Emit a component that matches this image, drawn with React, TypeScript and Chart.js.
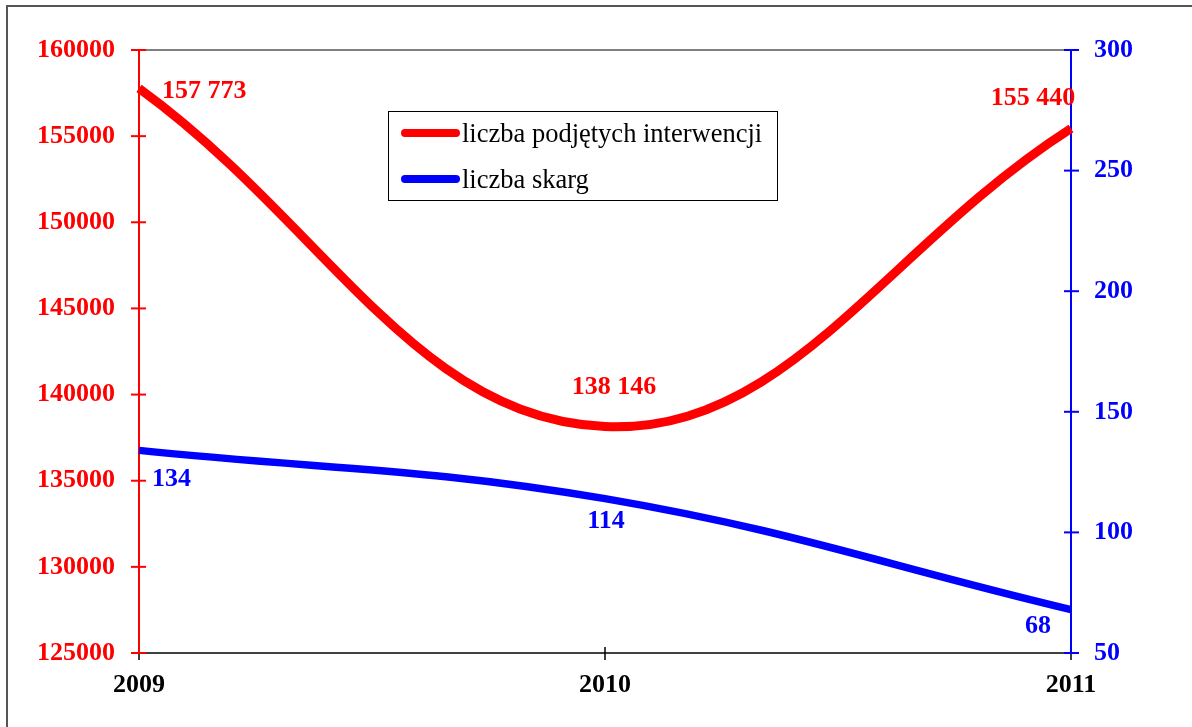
import React, { useEffect, useRef } from "react";
import { Chart, registerables } from "chart.js";

Chart.register(...registerables);

const years = ["2009", "2010", "2011"];
const interwencje = [157773, 138146, 155440];
const skargi = [134, 114, 68];
const interwencjeLabels = ["157 773", "138 146", "155 440"];
const skargiLabels = ["134", "114", "68"];
const seriesNames = ["liczba podjętych interwencji", "liczba skarg"];
const leftTicks = { min: 125000, max: 160000, step: 5000 };
const rightTicks = { min: 50, max: 300, step: 50 };

const RED = "#ff0000";
const BLUE = "#0000ff";
const FONT = "'Liberation Serif', 'Times New Roman', serif";

const W = 1192;
const H = 727;

// label placement relative to points (style only)
const redOffsets = [
  { dx: 23, dy: 10, align: "left" },
  { dx: 9, dy: -33, align: "center" },
  { dx: -38, dy: -24, align: "center" },
];
const blueOffsets = [
  { dx: 13, dy: 36, align: "left" },
  { dx: 1, dy: 29, align: "center" },
  { dx: -33, dy: 23, align: "center" },
];

const decorPlugin = {
  id: "decor",
  beforeDatasetsDraw(chart: any) {
    const ctx = chart.ctx;
    const { left, right, top, bottom } = chart.chartArea;
    ctx.save();
    // outer border
    ctx.strokeStyle = "#555555";
    ctx.lineWidth = 2;
    ctx.beginPath();
    ctx.moveTo(7, H + 5);
    ctx.lineTo(7, 6);
    ctx.lineTo(W + 5, 6);
    ctx.stroke();
    // top gray line
    ctx.strokeStyle = "#808080";
    ctx.lineWidth = 2;
    ctx.beginPath();
    ctx.moveTo(left, top);
    ctx.lineTo(right, top);
    ctx.stroke();
    // bottom axis line
    ctx.strokeStyle = "#000000";
    ctx.lineWidth = 1.5;
    ctx.beginPath();
    ctx.moveTo(left, bottom);
    ctx.lineTo(right, bottom);
    ctx.stroke();
    // x ticks
    const xs = chart.scales.x;
    ctx.lineWidth = 1.5;
    xs.ticks.forEach((_: any, i: number) => {
      const x = xs.getPixelForTick(i);
      ctx.beginPath();
      ctx.moveTo(x, bottom - 6);
      ctx.lineTo(x, bottom + 7);
      ctx.stroke();
    });
    // left axis
    const yl = chart.scales.y;
    ctx.strokeStyle = RED;
    ctx.lineWidth = 2;
    ctx.beginPath();
    ctx.moveTo(left, top);
    ctx.lineTo(left, bottom);
    ctx.stroke();
    yl.ticks.forEach((t: any) => {
      const y = yl.getPixelForValue(t.value);
      ctx.beginPath();
      ctx.moveTo(left - 8, y);
      ctx.lineTo(left + 7, y);
      ctx.stroke();
    });
    // right axis
    const yr = chart.scales.y1;
    ctx.strokeStyle = BLUE;
    ctx.beginPath();
    ctx.moveTo(right, top);
    ctx.lineTo(right, bottom);
    ctx.stroke();
    yr.ticks.forEach((t: any) => {
      const y = yr.getPixelForValue(t.value);
      ctx.beginPath();
      ctx.moveTo(right - 7, y);
      ctx.lineTo(right + 8, y);
      ctx.stroke();
    });
    ctx.restore();
  },
  afterDatasetsDraw(chart: any) {
    const ctx = chart.ctx;
    ctx.save();
    ctx.font = `bold 26px ${FONT}`;
    ctx.textBaseline = "alphabetic";
    const drawLabels = (dsIndex: number, labels: string[], offs: any[], color: string) => {
      const meta = chart.getDatasetMeta(dsIndex);
      ctx.fillStyle = color;
      meta.data.forEach((pt: any, i: number) => {
        const o = offs[i];
        ctx.textAlign = o.align;
        ctx.fillText(labels[i], pt.x + o.dx, pt.y + o.dy);
      });
    };
    drawLabels(0, interwencjeLabels, redOffsets, RED);
    drawLabels(1, skargiLabels, blueOffsets, BLUE);

    // legend
    const bx = 388, by = 111, bw = 389, bh = 89;
    ctx.fillStyle = "#ffffff";
    ctx.fillRect(bx, by, bw, bh);
    ctx.strokeStyle = "#000000";
    ctx.lineWidth = 1;
    ctx.strokeRect(bx + 0.5, by + 0.5, bw, bh);
    const colors = [RED, BLUE];
    const rows = [133, 179];
    ctx.lineCap = "round";
    ctx.font = `26.5px ${FONT}`;
    ctx.textAlign = "left";
    seriesNames.forEach((name, i) => {
      ctx.strokeStyle = colors[i];
      ctx.lineWidth = 8;
      ctx.beginPath();
      ctx.moveTo(405, rows[i]);
      ctx.lineTo(456, rows[i]);
      ctx.stroke();
      ctx.fillStyle = "#000000";
      ctx.fillText(name, 462, rows[i] + 9);
    });
    ctx.restore();
  },
};

export default function App() {
  const ref = useRef<HTMLCanvasElement | null>(null);
  useEffect(() => {
    if (!ref.current) return;
    const chart = new Chart(ref.current, {
      type: "line",
      data: {
        labels: years,
        datasets: [
          {
            label: seriesNames[0],
            data: interwencje,
            borderColor: RED,
            backgroundColor: RED,
            borderWidth: 9,
            pointRadius: 0,
            tension: 0.4,
            yAxisID: "y",
            clip: false as any,
          },
          {
            label: seriesNames[1],
            data: skargi,
            borderColor: BLUE,
            backgroundColor: BLUE,
            borderWidth: 7.5,
            pointRadius: 0,
            tension: 0.4,
            yAxisID: "y1",
            clip: false as any,
          },
        ],
      },
      options: {
        responsive: false,
        animation: false,
        devicePixelRatio: 1,
        layout: { padding: { top: 50, left: 0, right: 0, bottom: 0 } },
        plugins: {
          legend: { display: false },
          tooltip: { enabled: false },
        },
        scales: {
          x: {
            type: "category",
            offset: false,
            grid: { display: false, drawTicks: false },
            border: { display: false },
            ticks: {
              color: "#000000",
              font: { family: FONT, size: 26, weight: "bold" },
              padding: 17,
              maxRotation: 0,
            },
            afterFit: (s: any) => {
              s.height = 74;
            },
          },
          y: {
            position: "left",
            min: leftTicks.min,
            max: leftTicks.max,
            grid: { display: false, drawTicks: false },
            border: { display: false },
            ticks: {
              stepSize: leftTicks.step,
              color: RED,
              font: { family: FONT, size: 26, weight: "bold" },
              padding: 24,
              callback: (v: any) => String(v),
            },
            afterFit: (s: any) => {
              s.width = 139;
            },
          },
          y1: {
            position: "right",
            min: rightTicks.min,
            max: rightTicks.max,
            grid: { display: false, drawTicks: false },
            border: { display: false },
            ticks: {
              stepSize: rightTicks.step,
              color: BLUE,
              font: { family: FONT, size: 26, weight: "bold" },
              padding: 23,
            },
            afterFit: (s: any) => {
              s.width = 121;
            },
          },
        },
      } as any,
      plugins: [decorPlugin],
    });
    return () => chart.destroy();
  }, []);
  return (
    <div style={{ position: "absolute", left: 0, top: 0, width: W, height: H, background: "#fff" }}>
      <canvas ref={ref} width={W} height={H} style={{ display: "block" }} />
    </div>
  );
}
